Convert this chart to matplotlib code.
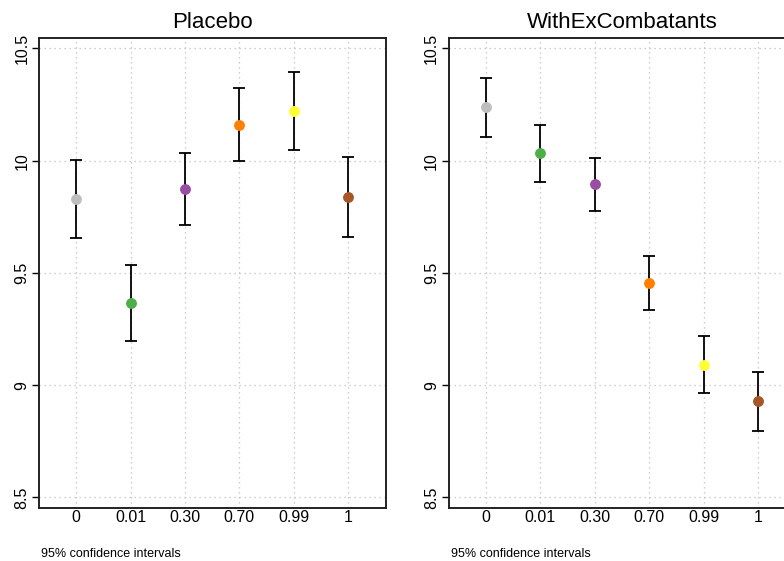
import matplotlib
matplotlib.use("Agg")
import matplotlib.pyplot as plt

plt.rcParams['font.family'] = ['Liberation Sans', 'DejaVu Sans']

# Niveaux du traitement (axe x) et couleurs des points
levels = ['0', '0.01', '0.30', '0.70', '0.99', '1']
point_colors = ['#BEBEBE', '#4DAF4A', '#984EA3', '#FF7F00', '#FFFF33', '#A65628']

# Estimations et intervalles de confiance à 95 %
placebo_est = [9.829, 9.366, 9.874, 10.160, 10.219, 9.837]
placebo_low = [9.657, 9.197, 9.712, 10.000, 10.047, 9.658]
placebo_high = [10.003, 9.535, 10.035, 10.322, 10.393, 10.017]

excomb_est = [10.239, 10.033, 9.894, 9.455, 9.091, 8.930]
excomb_low = [10.106, 9.906, 9.774, 9.335, 8.964, 8.797]
excomb_high = [10.369, 10.158, 10.013, 9.575, 9.218, 9.060]

panels = [
    ('Placebo', placebo_est, placebo_low, placebo_high),
    ('WithExCombatants', excomb_est, excomb_low, excomb_high),
]
y_ticks = [8.5, 9, 9.5, 10, 10.5]

W, H = 784, 561
fig = plt.figure(figsize=(W / 100, H / 100), dpi=100)

ax_left = [39, 448.7]
ax_w = 346.7
ax_top, ax_bot = 38.3, 507.7

for k, (title, est, low, high) in enumerate(panels):
    x0 = ax_left[k]
    ax = fig.add_axes([x0 / W, 1 - ax_bot / H, ax_w / W, (ax_bot - ax_top) / H])
    xs = list(range(len(levels)))
    ax.set_xlim(-0.686, 5.69)
    ax.set_ylim(8.454, 10.545)

    # grille pointillée
    for x in xs:
        ax.axvline(x, color='#BEBEBE', lw=0.9, ls=(0, (1, 3)), zorder=0)
    for y in y_ticks:
        ax.axhline(y, color='#BEBEBE', lw=0.9, ls=(0, (1, 3)), zorder=0)

    for i in xs:
        ax.errorbar(i, est[i],
                    yerr=[[est[i] - low[i]], [high[i] - est[i]]],
                    fmt='none', ecolor='black', elinewidth=1.3,
                    capsize=4, capthick=1.3, zorder=2)
        ax.plot(i, est[i], 'o', color=point_colors[i], ms=6.8,
                mec=point_colors[i], zorder=3)

    ax.set_xticks(xs)
    ax.set_xticklabels(levels, fontsize=11.5)
    ax.tick_params(axis='x', length=0, pad=2)
    ax.set_yticks(y_ticks)
    ax.set_yticklabels(['8.5', '9', '9.5', '10', '10.5'], rotation=90,
                       va='center', fontsize=11.5)
    ax.tick_params(axis='y', length=5, width=1, pad=2)
    for s in ax.spines.values():
        s.set_linewidth(1.4)
        s.set_color('#222222')

    fig.text((x0 + ax_w / 2) / W, 1 - 23 / H, title, ha='center', va='center',
             fontsize=16)
    fig.text((x0 + 2) / W, 1 - 554 / H, '95% confidence intervals',
             ha='left', va='center', fontsize=9)

fig.savefig('out.png', dpi=100)
